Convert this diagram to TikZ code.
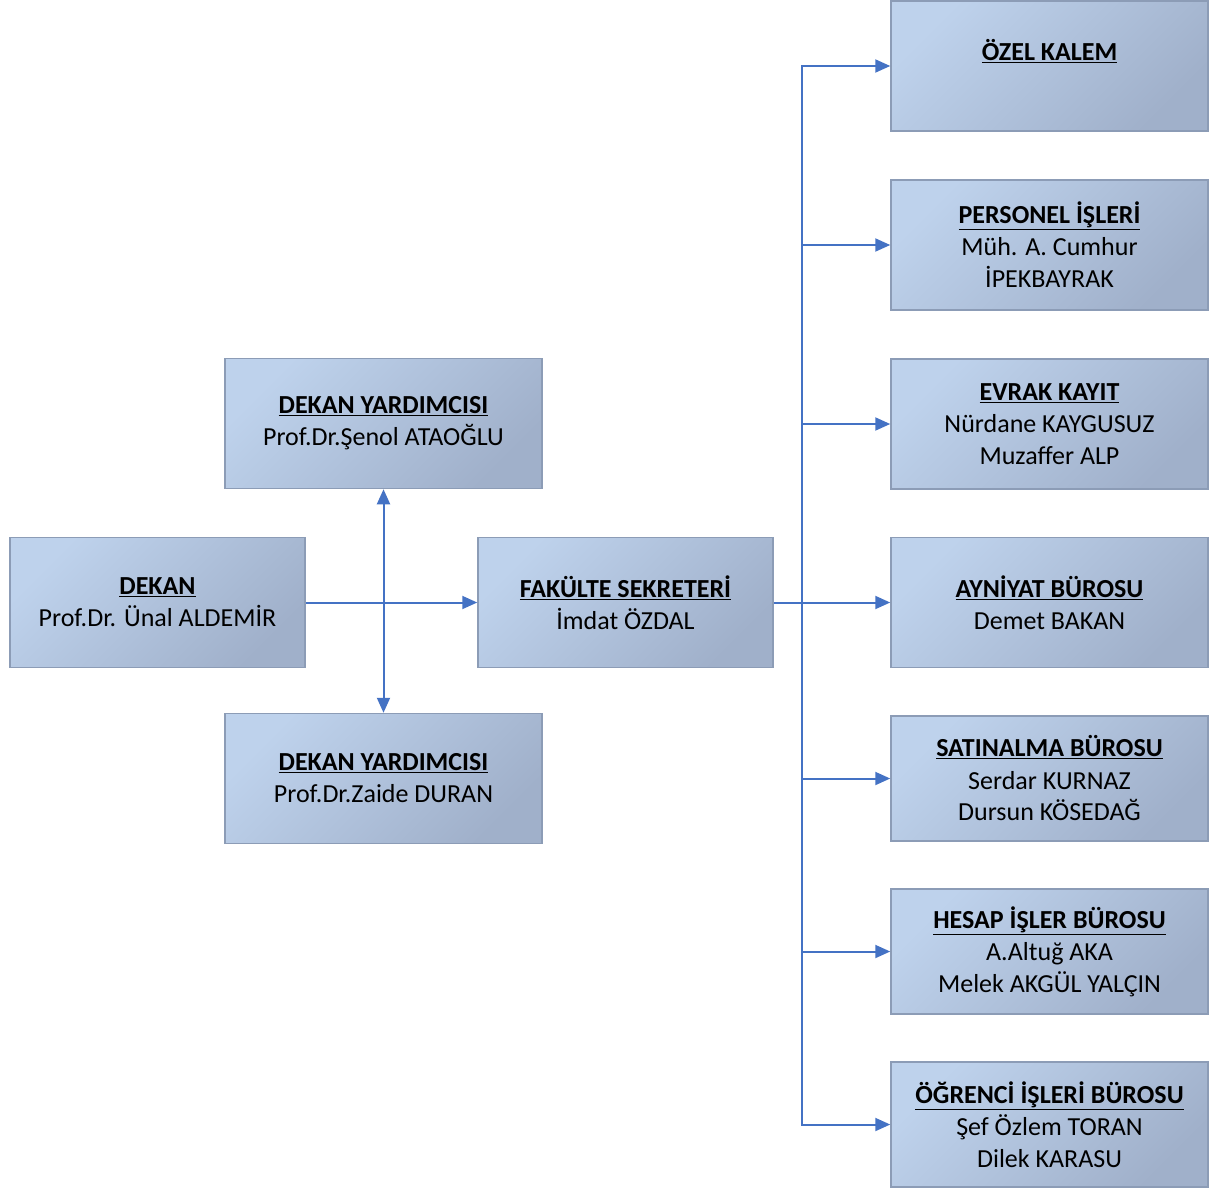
\documentclass[tikz,border=0pt]{standalone}
\usepackage{fontspec}
\setmainfont{Carlito}
\usepackage{tikz}
\usetikzlibrary{arrows.meta,calc}
\definecolor{boxlight}{RGB}{190,210,236}
\definecolor{boxdark}{RGB}{160,176,202}
\definecolor{boxline}{RGB}{140,156,182}
\definecolor{linkblue}{RGB}{68,114,196}
\newcommand{\unit}[1]{\underline{\textbf{#1}}}

\begin{document}
\begin{tikzpicture}[x=1pt,y=-1pt,
  font=\fontsize{26}{32}\selectfont,
  unitbox/.style={draw=boxline,line width=1.5pt,top color=boxlight,bottom color=boxdark,
    shading angle=45,align=center,minimum width=317pt,minimum height=130pt,inner sep=0pt},
  headbox/.style={unitbox,minimum width=295pt},
  link/.style={draw=linkblue,line width=2pt,-{Triangle[length=15pt,width=13pt]}}]
\useasboundingbox (0,0) rectangle (1215,1189);
% Left part
\node[headbox] (dekan) at (157.5,602.5) {\unit{DEKAN}\\Prof.Dr. Ünal ALDEMİR};
\node[headbox] (sekreter) at (625.5,602.5) {\unit{FAKÜLTE SEKRETERİ}\\İmdat ÖZDAL};
\node[unitbox] (yard1) at (383.5,423.5) {\unit{DEKAN YARDIMCISI}\\Prof.Dr.Şenol ATAOĞLU};
\node[unitbox] (yard2) at (383.5,778.5) {\unit{DEKAN YARDIMCISI}\\Prof.Dr.Zaide DURAN};
% Right column
\node[unitbox] (ozel) at (1049.5,66) {\unit{ÖZEL KALEM}\\~};
\node[unitbox] (personel) at (1049.5,245) {\unit{PERSONEL İŞLERİ}\\Müh. A. Cumhur\\İPEKBAYRAK};
\node[unitbox] (evrak) at (1049.5,424) {\unit{EVRAK KAYIT}\\Nürdane KAYGUSUZ\\Muzaffer ALP};
\node[unitbox] (ayniyat) at (1049.5,602.5) {\unit{AYNİYAT BÜROSU}\\Demet BAKAN};
\node[unitbox,minimum height=125pt] (satin) at (1049.5,778.5) {\unit{SATINALMA BÜROSU}\\Serdar KURNAZ\\Dursun KÖSEDAĞ};
\node[unitbox,minimum height=125pt] (hesap) at (1049.5,951.5) {\unit{HESAP İŞLER BÜROSU}\\A.Altuğ AKA\\Melek AKGÜL YALÇIN};
\node[unitbox,minimum height=125pt] (ogrenci) at (1049.5,1124.5) {\unit{ÖĞRENCİ İŞLERİ BÜROSU}\\Şef Özlem TORAN\\Dilek KARASU};
% Connectors
\draw[link] (dekan) -- (sekreter);
\draw[link,{Triangle[length=15pt,width=13pt]}-{Triangle[length=15pt,width=13pt]}] (yard1) -- (yard2);
\coordinate (bus) at ($(sekreter.east)+(28,0)$);
\draw[draw=linkblue,line width=2pt] (sekreter.east) -- (bus);
\foreach \b in {ozel,personel,evrak,ayniyat,satin,hesap,ogrenci}
  \draw[link] (bus) |- (\b.west);
\end{tikzpicture}
\end{document}
